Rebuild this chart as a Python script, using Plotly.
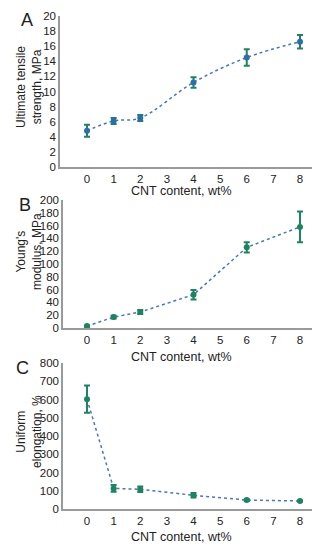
import plotly.graph_objects as go

# Data
cnt = [0, 1, 2, 4, 6, 8]
uts = [4.8, 6.1, 6.5, 11.2, 14.5, 16.6]
uts_err = [0.8, 0.4, 0.4, 0.7, 1.1, 0.9]
ym = [3, 17, 25, 52, 126, 158]
ym_err = [1, 2, 3, 7.5, 8, 24]
ue = [602, 113, 108, 75, 49, 44]
ue_err = [75, 19, 15, 12, 5, 3]
x_ticks = [0, 1, 2, 3, 4, 5, 6, 7, 8]

OFF = 8  # browser default body margin
W, H = 327 - OFF, 550 - OFF
GREEN = "#1b8560"
BLUE_LINE = "#4a74c4"
BLUE_MK = "#2a6db3"
FONT = "Liberation Sans, Arial, sans-serif"

def px_x(x):
    return (x - OFF) / W

def px_y(y):
    return 1 - (y - OFF) / H

panels = [
    dict(y=uts, e=uts_err, left=60, top=16, bot=167, rng=[0, 20], dt=2, mk=BLUE_MK, shape="spline",
         letter="A", lx=27, ly=20, title="Ultimate tensile<br>strength, MPa", tcy=87, xt=191),
    dict(y=ym, e=ym_err, left=63, top=200, bot=328, rng=[0, 200], dt=20, mk=GREEN, shape="linear",
         letter="B", lx=25, ly=205, title="Young's<br>modulus, MPa", tcy=252, xt=357),
    dict(y=ue, e=ue_err, left=63, top=363, bot=509, rng=[0, 800], dt=100, mk=GREEN, shape="linear",
         letter="C", lx=22, ly=368, title="Uniform<br>elongation, %", tcy=432, xt=537),
]
X0, X8, XR = 87, 300, 312
step = (X8 - X0) / 8

fig = go.Figure()
annotations = []
for i, p in enumerate(panels):
    n = "" if i == 0 else str(i + 1)
    fig.add_trace(go.Scatter(
        x=cnt, y=p["y"], mode="lines+markers",
        xaxis="x" + n, yaxis="y" + n,
        line=dict(color=BLUE_LINE, width=1.5, dash="dot", shape=p["shape"], smoothing=1.0),
        marker=dict(color=p["mk"], size=6),
        error_y=dict(type="data", array=p["e"], color=GREEN, thickness=2, width=3),
        showlegend=False,
    ))
    xr = [(p["left"] - X0) / step, (XR - X0) / step]
    ax = dict(domain=[px_x(p["left"]), px_x(XR)], range=xr, tickvals=x_ticks, showgrid=False,
              zeroline=False, showline=True, linecolor="#9a9a9a", linewidth=1.5, ticks="",
              automargin=False, tickfont=dict(family=FONT, size=11.5, color="#222"),
              anchor="y" + n)
    ay = dict(domain=[px_y(p["bot"]), px_y(p["top"])], range=p["rng"], dtick=p["dt"],
              showgrid=False, zeroline=False, showline=True, linecolor="#9a9a9a", linewidth=1.5,
              ticks="", automargin=False, tickfont=dict(family=FONT, size=11.5, color="#222"),
              anchor="x" + n)
    fig.update_layout(**{"xaxis" + n: ax, "yaxis" + n: ay})
    annotations.append(dict(text=p["letter"], x=px_x(p["lx"]), y=px_y(p["ly"]), xref="paper", yref="paper",
                            showarrow=False, font=dict(family=FONT, size=18, color="#222"),
                            xanchor="center", yanchor="middle"))
    annotations.append(dict(text=p["title"], x=px_x(29), y=px_y(p["tcy"]), xref="paper", yref="paper",
                            showarrow=False, textangle=-90, font=dict(family=FONT, size=12, color="#222"),
                            xanchor="center", yanchor="middle"))
    annotations.append(dict(text="CNT content, wt%", x=px_x(181), y=px_y(p["xt"]),
                            xref="paper", yref="paper", showarrow=False,
                            font=dict(family=FONT, size=12.5, color="#222"),
                            xanchor="center", yanchor="middle"))

fig.update_layout(width=W, height=H, margin=dict(l=0, r=0, t=0, b=0),
                  paper_bgcolor="white", plot_bgcolor="white", annotations=annotations)
fig.write_html("out.html")
